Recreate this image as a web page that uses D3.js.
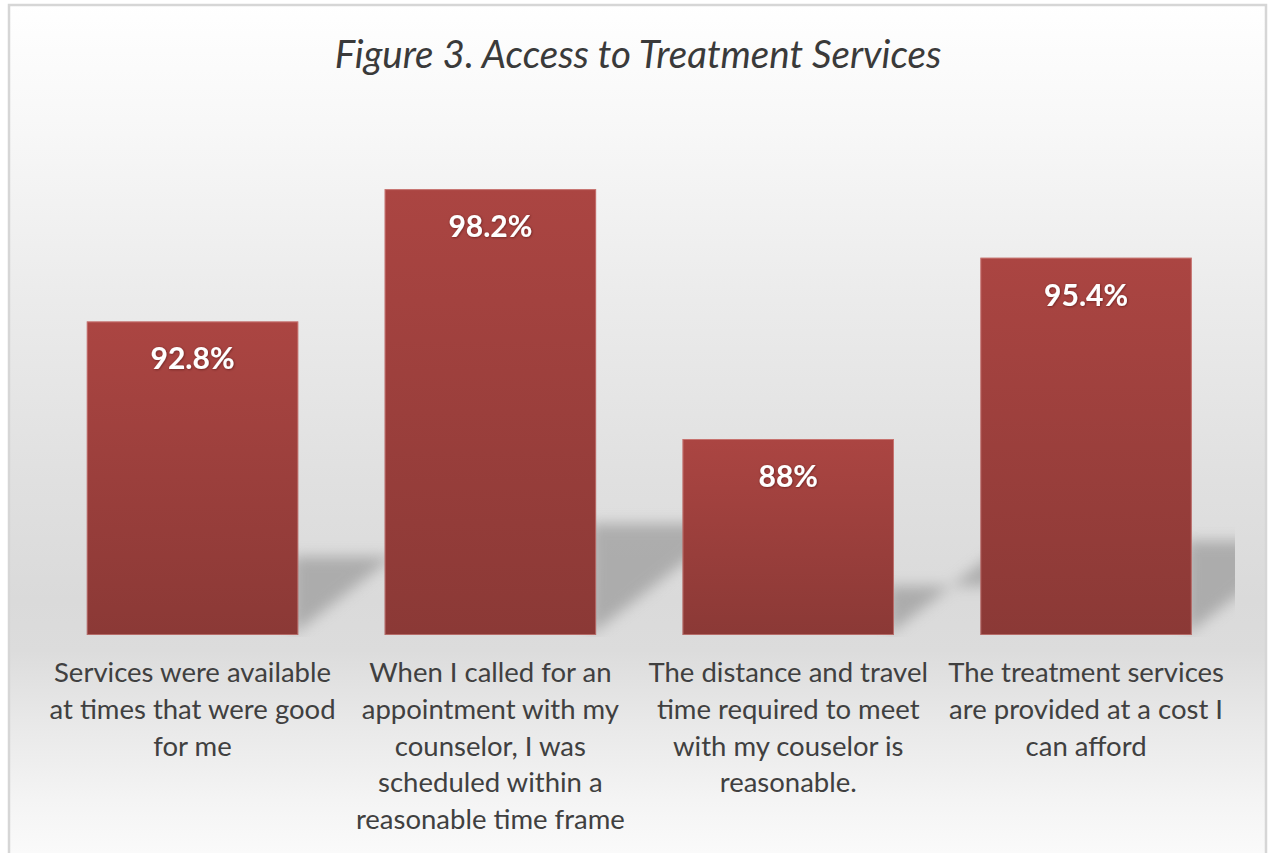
<!DOCTYPE html>
<html>
<head>
<meta charset="utf-8">
<script src="https://cdn.jsdelivr.net/npm/d3@7"></script>
<style>
  html, body { margin: 0; padding: 0; background: #ffffff; overflow: hidden; }
  svg { display: block; }
</style>
</head>
<body>
<svg id="chart" width="1270" height="853"></svg>
<script>
// Survey results: share of respondents agreeing with each statement
const categories = [
  "Services were available at times that were good for me",
  "When I called for an appointment with my counselor, I was scheduled within a reasonable time frame",
  "The distance and travel time required to meet with my couselor is reasonable.",
  "The treatment services are provided at a cost I can afford"
];
const categoryLines = [
  ["Services were available", "at times that were good", "for me"],
  ["When I called for an", "appointment with my", "counselor, I was", "scheduled within a", "reasonable time frame"],
  ["The distance and travel", "time required to meet", "with my couselor is", "reasonable."],
  ["The treatment services", "are provided at a cost I", "can afford"]
];
const values = [92.8, 98.2, 88, 95.4];
const valueLabels = ["92.8%", "98.2%", "88%", "95.4%"];
const yDomain = [80, 100];
const titleText = "Figure 3. Access to Treatment Services";

const svg = d3.select("#chart");
const W = 1270, H = 853;
const plot = { left: 43.6, right: 1235, top: 145, bottom: 635 };

const defs = svg.append("defs");

// chart area background: light at top, grey band near the floor, fading again below
const bg = defs.append("linearGradient").attr("id", "bgGrad")
  .attr("gradientUnits", "userSpaceOnUse")
  .attr("x1", 0).attr("y1", 0).attr("x2", 0).attr("y2", H);
[
  [0, "#ffffff"], [120, "#f8f8f8"], [300, "#ebebeb"], [480, "#e0e0e0"],
  [600, "#dadada"], [650, "#dcdcdc"], [720, "#e8e8e8"], [800, "#f4f4f4"], [853, "#fafafa"]
].forEach(([y, c]) => bg.append("stop").attr("offset", y / H).attr("stop-color", c));

// bar fill: deep red, slightly lighter at the top
const barGrad = defs.append("linearGradient").attr("id", "barGrad")
  .attr("x1", 0).attr("y1", 0).attr("x2", 0).attr("y2", 1);
barGrad.append("stop").attr("offset", 0).attr("stop-color", "#ab4542");
barGrad.append("stop").attr("offset", 1).attr("stop-color", "#8b3936");

// soft cast shadow
const blur = defs.append("filter").attr("id", "shadowBlur")
  .attr("x", "-40%").attr("y", "-40%").attr("width", "180%").attr("height", "180%");
blur.append("feGaussianBlur").attr("stdDeviation", 7);

// faint dark halo behind the white value labels
const halo = defs.append("filter").attr("id", "labelHalo")
  .attr("x", "-20%").attr("y", "-30%").attr("width", "140%").attr("height", "160%");
halo.append("feDropShadow").attr("dx", 0.6).attr("dy", 0.6)
  .attr("stdDeviation", 0.9).attr("flood-color", "#3a0f0e").attr("flood-opacity", 0.6);

defs.append("clipPath").attr("id", "plotClip")
  .append("rect").attr("x", plot.left).attr("y", 0)
  .attr("width", plot.right - plot.left).attr("height", plot.bottom + 2);

// chart frame
svg.append("rect")
  .attr("x", 9).attr("y", 5).attr("width", 1257).attr("height", H + 20)
  .attr("fill", "url(#bgGrad)")
  .attr("stroke", "#d6d6d6").attr("stroke-width", 2.5);

const x = d3.scaleBand()
  .domain(categories)
  .range([plot.left, plot.right])
  .paddingInner(0.29)
  .paddingOuter(0.145);

const y = d3.scaleLinear().domain(yDomain).range([plot.bottom, plot.top]);

// shadow height is a flattened copy of the value scale
const yShadow = d3.scaleLinear().domain(yDomain)
  .range([plot.bottom, plot.bottom - 0.25 * (plot.bottom - plot.top)]);

const data = categories.map((c, i) => ({
  cat: c, value: values[i], label: valueLabels[i], lines: categoryLines[i]
}));

// shadows cast to the back-right of each bar
svg.append("g").attr("clip-path", "url(#plotClip)")
  .selectAll("path").data(data).join("path")
  .attr("d", d => {
    const r = x(d.cat) + x.bandwidth();
    const top = yShadow(d.value);
    const dx = 100, dy = 82;
    return d3.line()([
      [r - 6, plot.bottom], [r + dx, plot.bottom - dy],
      [r + dx, top], [r - 6, top]
    ]);
  })
  .attr("fill", "#909090")
  .attr("opacity", 0.62)
  .attr("filter", "url(#shadowBlur)");

// bars
const bars = svg.append("g").selectAll("g").data(data).join("g");
bars.append("rect")
  .attr("x", d => x(d.cat))
  .attr("y", d => y(d.value))
  .attr("width", x.bandwidth())
  .attr("height", d => y(yDomain[0]) - y(d.value))
  .attr("fill", "url(#barGrad)");
bars.append("rect")
  .attr("x", d => x(d.cat) + 0.5)
  .attr("y", d => y(d.value) + 0.5)
  .attr("width", x.bandwidth() - 1)
  .attr("height", d => y(yDomain[0]) - y(d.value) - 1)
  .attr("fill", "none")
  .attr("stroke", "#e9a9a6")
  .attr("stroke-opacity", 0.45)
  .attr("stroke-width", 1);

// value labels inside the bars
bars.append("text")
  .attr("x", d => x(d.cat) + x.bandwidth() / 2)
  .attr("y", d => y(d.value) + 48)
  .attr("text-anchor", "middle")
  .attr("font-family", "Lato, 'Open Sans', sans-serif")
  .attr("font-weight", 700)
  .attr("font-size", 30)
  .attr("fill", "#ffffff")
  .attr("filter", "url(#labelHalo)")
  .text(d => d.label);

// category labels below the bars
const catText = svg.append("g").selectAll("text").data(data).join("text")
  .attr("x", d => x(d.cat) + x.bandwidth() / 2)
  .attr("y", 682)
  .attr("text-anchor", "middle")
  .attr("font-family", "Lato, 'Open Sans', sans-serif")
  .attr("font-size", 27.5)
  .attr("fill", "#404040");
catText.selectAll("tspan").data(d => d.lines).join("tspan")
  .attr("x", function () { return d3.select(this.parentNode).attr("x"); })
  .attr("dy", (d, i) => i === 0 ? 0 : 36.8)
  .text(d => d);

// title
svg.append("text")
  .attr("x", 638)
  .attr("y", 68)
  .attr("text-anchor", "middle")
  .attr("font-family", "Lato, 'Open Sans', sans-serif")
  .attr("font-style", "italic")
  .attr("font-size", 38.5)
  .attr("fill", "#3a3a3a")
  .text(titleText);
</script>
</body>
</html>
